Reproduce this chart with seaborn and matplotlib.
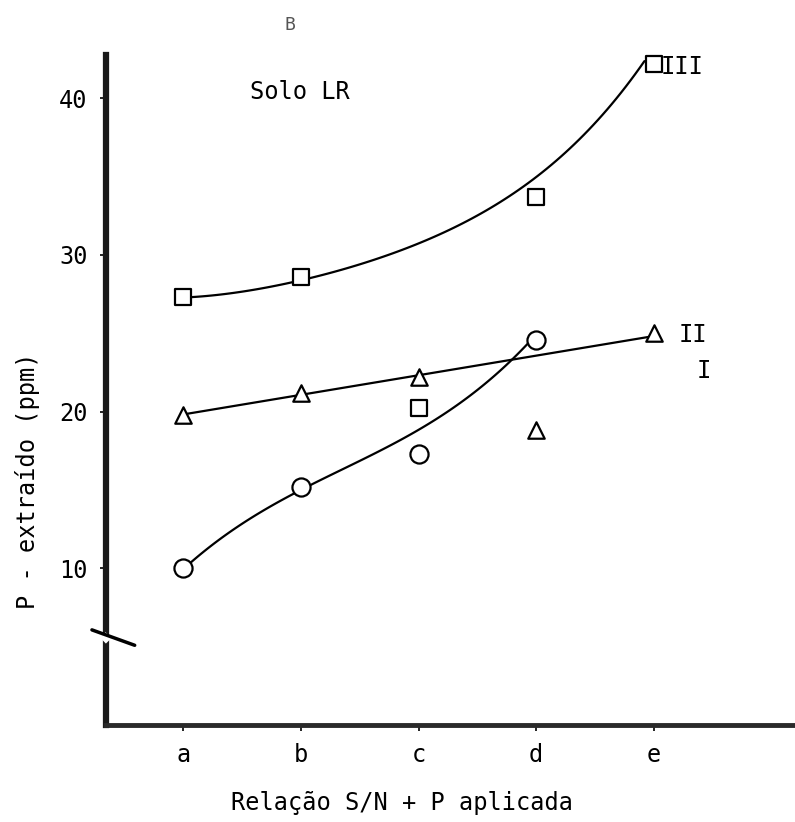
import matplotlib
matplotlib.use("Agg")
import matplotlib.pyplot as plt
import seaborn as sns
import numpy as np
import pandas as pd

# categories on the x axis
categories = ["a", "b", "c", "d", "e"]
cat_pos = [0, 1, 2, 3, 4]

# observed points (ppm)
serie_III = [27.3, 28.6, 20.2, 33.7, 42.2]   # squares
serie_II = [19.8, 21.2, 22.2, 18.8, 25.0]    # triangles
serie_I = [10.0, 15.2, 17.3, 24.6]           # circles (a-d)

# fitted curves
curve_x = [0, 0.5, 1, 1.5, 2, 2.5, 3, 3.5, 3.92]
curve_III = [27.3, 27.6, 28.4, 29.4, 30.8, 32.5, 34.8, 38.6, 42.3]
line_x = [0, 1, 2, 3, 4]
line_II = [19.8, 21.1, 22.3, 23.6, 24.8]
curveI_x = [0, 0.5, 1, 1.28, 1.57, 1.85, 2.27, 2.55, 2.78, 2.95]
curve_I = [10.0, 12.7, 15.1, 16.1, 17.1, 18.2, 20.1, 21.6, 23.3, 24.5]

yticks = [10, 20, 30, 40]

sns.set_theme(style="ticks")
plt.rcParams["font.family"] = ["DejaVu Sans Mono", "DejaVu Sans"]
plt.rcParams["text.color"] = "black"
plt.rcParams["axes.labelcolor"] = "black"
plt.rcParams["xtick.color"] = "black"
plt.rcParams["ytick.color"] = "black"

fig = plt.figure(figsize=(7.95, 8.22), dpi=100)
ax = fig.add_axes([0.133, 0.118, 0.867, 0.815])

df_III = pd.DataFrame({"x": cat_pos, "y": serie_III})
df_II = pd.DataFrame({"x": cat_pos, "y": serie_II})
df_I = pd.DataFrame({"x": cat_pos[:len(serie_I)], "y": serie_I})

# curves
lk = dict(color="black", lw=1.6)
sns.regplot(x=curve_x, y=curve_III, order=4, ci=None, scatter=False, ax=ax,
            line_kws=lk, truncate=True)
sns.regplot(x=line_x, y=line_II, order=1, ci=None, scatter=False, ax=ax,
            line_kws=lk, truncate=True)
sns.regplot(x=curveI_x, y=curve_I, order=3, ci=None, scatter=False, ax=ax,
            line_kws=lk, truncate=True)

# markers
mk = dict(facecolor="white", edgecolor="black", linewidth=1.6, zorder=5,
          legend=False, clip_on=False)
sns.scatterplot(data=df_III, x="x", y="y", marker="s", s=130, ax=ax, **mk)
sns.scatterplot(data=df_II, x="x", y="y", marker="^", s=140, ax=ax, **mk)
sns.scatterplot(data=df_I, x="x", y="y", marker="o", s=170, ax=ax, **mk)

ax.set_xlim(-0.66, 5.2)
ax.set_ylim(0, 42.75)
ax.set_xticks(cat_pos)
ax.set_xticklabels(categories)
ax.set_yticks(yticks)
ax.tick_params(axis="both", labelsize=17, length=4, width=1.2, color="black")
ax.tick_params(axis="y", pad=9)
ax.tick_params(axis="x", pad=9)

for s in ["top", "right"]:
    ax.spines[s].set_visible(False)
ax.spines["left"].set_linewidth(4.5)
ax.spines["bottom"].set_linewidth(3.5)
ax.spines["left"].set_color("#1a1a1a")
ax.spines["bottom"].set_color("#2a2a2a")

ax.set_ylabel("P - extraído (ppm)", fontsize=17, va="center", ha="center")
ax.yaxis.set_label_coords(-0.113, 0.364)
ax.set_xlabel("Relação S/N + P aplicada", fontsize=17, va="center", ha="center")
ax.xaxis.set_label_coords(0.43, -0.116)

# text annotations
ax.text(0.57, 40.4, "Solo LR", fontsize=17, ha="left", va="center")
ax.text(4.06, 42.0, "III", fontsize=17, ha="left", va="center")
ax.text(4.21, 24.9, "II", fontsize=17, ha="left", va="center")
ax.text(4.36, 22.6, "I", fontsize=17, ha="left", va="center")
fig.text(290 / 795, 1 - 25 / 822, "B", fontsize=13, ha="center", va="center", color="#555555")

# axis break mark
ax.plot([-0.004, 0.004], [0.126, 0.134], transform=ax.transAxes, color="white", lw=6,
        clip_on=False, zorder=6, solid_capstyle="butt")
ax.plot([-0.02, 0.042], [0.142, 0.119], transform=ax.transAxes, color="black", lw=2.5,
        clip_on=False, zorder=7)

fig.savefig("out.png", dpi=100)
